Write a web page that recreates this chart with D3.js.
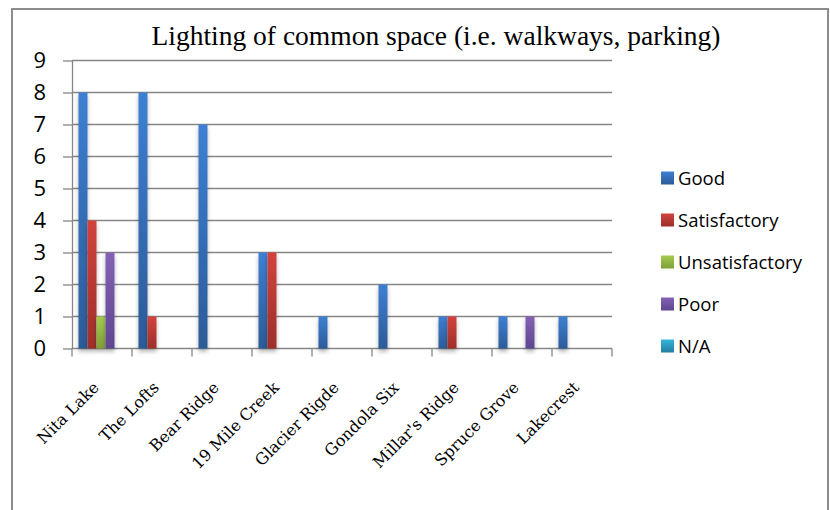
<!DOCTYPE html>
<html lang="en">

<head>
    <meta charset="UTF-8">
    <title>Lighting of common space</title>
    <script src="https://d3js.org/d3.v7.min.js"></script>
    <style>
        body {
            margin: 0;
            background: #ffffff;
        }

        .ytick text {
            font-family: "Open Sans", sans-serif;
            font-size: 22px;
            fill: #000;
        }

        .xlabel {
            font-family: "DejaVu Serif", serif;
            font-size: 16px;
            fill: #000;
        }

        .legend text {
            font-family: "Open Sans", sans-serif;
            font-size: 18.5px;
            fill: #000;
        }
    </style>
</head>

<body>
    <svg id="chart" width="830" height="510"></svg>

    <script>
        // chart data
        var categories = ["Nita Lake", "The Lofts", "Bear Ridge", "19 Mile Creek", "Glacier Rigde",
            "Gondola Six", "Millar's Ridge", "Spruce Grove", "Lakecrest"];
        var seriesNames = ["Good", "Satisfactory", "Unsatisfactory", "Poor", "N/A"];
        var good = [8, 8, 7, 3, 1, 2, 1, 1, 1];
        var satisfactory = [4, 1, 0, 3, 0, 0, 1, 0, 0];
        var unsatisfactory = [1, 0, 0, 0, 0, 0, 0, 0, 0];
        var poor = [3, 0, 0, 0, 0, 0, 0, 1, 0];
        var notApplicable = [0, 0, 0, 0, 0, 0, 0, 0, 0];
        var yTicks = [0, 1, 2, 3, 4, 5, 6, 7, 8, 9];
        var title = "Lighting of common space (i.e. walkways, parking)";

        // top / bottom gradient colours per series
        var colorsTop = ["#3d7fd3", "#d2433d", "#a5cb4d", "#8462b4", "#35b6dc"];
        var colorsBottom = ["#2c5b97", "#9c2f2b", "#7f9e39", "#5f4690", "#227f9f"];

        var seriesValues = [good, satisfactory, unsatisfactory, poor, notApplicable];

        var svg = d3.select("#chart"),
            width = +svg.attr("width"),
            height = +svg.attr("height");

        var defs = svg.append("defs");

        seriesNames.forEach(function (s, i) {
            var g = defs.append("linearGradient")
                .attr("id", "grad" + i)
                .attr("x1", 0).attr("y1", 0).attr("x2", 0).attr("y2", 1);
            g.append("stop").attr("offset", "0%").attr("stop-color", colorsTop[i]);
            g.append("stop").attr("offset", "100%").attr("stop-color", colorsBottom[i]);
        });

        var shadow = defs.append("filter")
            .attr("id", "shadow")
            .attr("x", "-50%").attr("y", "-10%")
            .attr("width", "200%").attr("height", "130%");
        shadow.append("feDropShadow")
            .attr("dx", 0).attr("dy", 3)
            .attr("stdDeviation", 2)
            .attr("flood-color", "#000")
            .attr("flood-opacity", 0.3);

        // outer frame
        svg.append("rect")
            .attr("x", 12).attr("y", 9)
            .attr("width", 816).attr("height", 520)
            .attr("fill", "none")
            .attr("stroke", "#8c8c8c")
            .attr("stroke-width", 2);

        // title
        svg.append("text")
            .attr("x", 436)
            .attr("y", 45)
            .attr("text-anchor", "middle")
            .style("font-family", "'Liberation Serif', serif")
            .style("font-size", "27.5px")
            .text(title);

        // scales
        var x = d3.scaleBand()
            .domain(categories)
            .range([72, 612]);

        var x1 = d3.scaleBand()
            .domain(seriesNames)
            .range([6.5, 51.5]);

        var y = d3.scaleLinear()
            .domain([0, 9])
            .range([348.5, 60.5]);

        // gridlines
        svg.append("g")
            .selectAll("line")
            .data(yTicks)
            .join("line")
            .attr("x1", 72)
            .attr("x2", x.range()[1])
            .attr("y1", function (d) { return y(d); })
            .attr("y2", function (d) { return y(d); })
            .attr("stroke", "#868686")
            .attr("stroke-width", 1.3);

        // y axis
        var yAxis = svg.append("g")
            .attr("transform", "translate(72,0)")
            .call(d3.axisLeft(y).tickValues(yTicks).tickSize(9).tickSizeOuter(0).tickPadding(17)
                .tickFormat(d3.format("d")));
        yAxis.selectAll(".tick").attr("class", "tick ytick");
        yAxis.selectAll("line").attr("stroke", "#868686").attr("stroke-width", 1.3);
        yAxis.select(".domain").attr("stroke", "#868686").attr("stroke-width", 1.3);

        // x axis ticks at band edges
        var edges = categories.map(function (c) { return x(c); }).concat([x.range()[1]]);
        svg.append("g")
            .selectAll("line")
            .data(edges)
            .join("line")
            .attr("x1", function (d) { return d; })
            .attr("x2", function (d) { return d; })
            .attr("y1", y(0))
            .attr("y2", y(0) + 8)
            .attr("stroke", "#868686")
            .attr("stroke-width", 1.3);

        // bars
        var groups = svg.append("g")
            .selectAll("g")
            .data(categories)
            .join("g")
            .attr("transform", function (d) { return "translate(" + x(d) + ",0)"; });

        groups.selectAll("rect")
            .data(function (d, ci) {
                return seriesNames.map(function (s, si) {
                    return { series: s, index: si, value: seriesValues[si][ci] };
                }).filter(function (e) { return e.value > 0; });
            })
            .join("rect")
            .attr("x", function (d) { return x1(d.series); })
            .attr("width", x1.bandwidth())
            .attr("y", function (d) { return y(d.value); })
            .attr("height", function (d) { return y(0) - y(d.value); })
            .attr("fill", function (d) { return "url(#grad" + d.index + ")"; })
            .attr("filter", "url(#shadow)");

        // x labels
        svg.append("g")
            .selectAll("text")
            .data(categories)
            .join("text")
            .attr("class", "xlabel")
            .attr("text-anchor", "end")
            .attr("transform", function (d) {
                return "translate(" + (x(d) + x.bandwidth() / 2 - 2) + "," + (y(0) + 40) + ") rotate(-45)";
            })
            .text(function (d) { return d; });

        // legend
        var legend = svg.append("g")
            .attr("class", "legend")
            .attr("transform", "translate(661,178)");

        var items = legend.selectAll("g")
            .data(seriesNames)
            .join("g")
            .attr("transform", function (d, i) { return "translate(0," + (i * 42) + ")"; });

        items.append("rect")
            .attr("x", 0).attr("y", -6.5)
            .attr("width", 13).attr("height", 13)
            .attr("fill", function (d, i) { return "url(#grad" + i + ")"; });

        items.append("text")
            .attr("x", 17)
            .attr("dy", "0.36em")
            .text(function (d) { return d; });
    </script>
</body>

</html>
